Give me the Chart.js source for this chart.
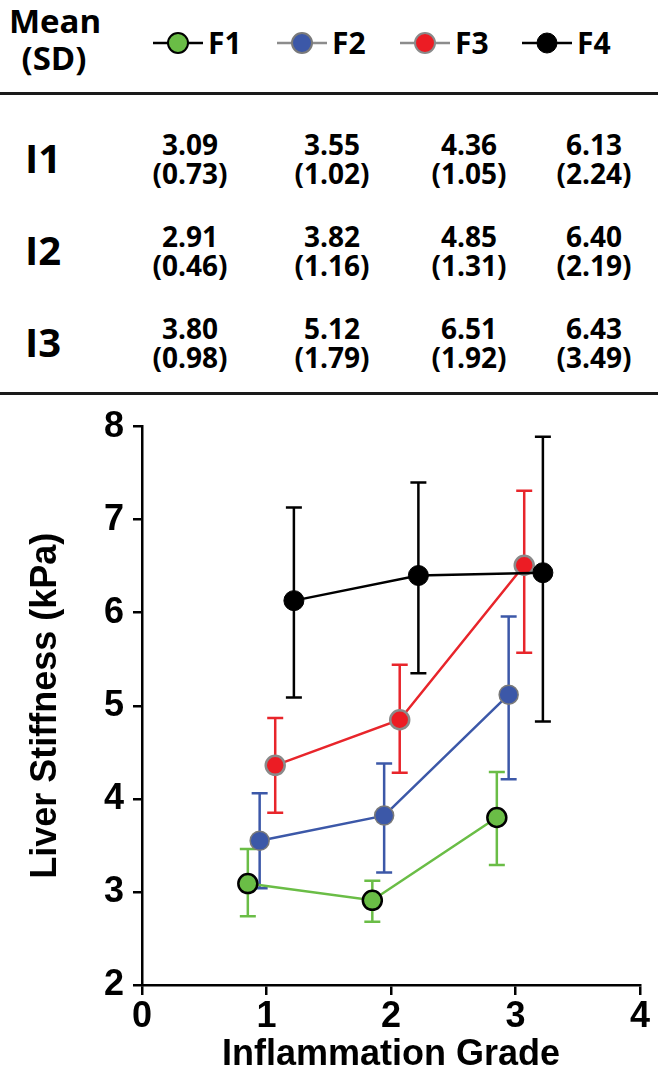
<!DOCTYPE html>
<html>
<head>
<meta charset="utf-8">
<script src="https://cdn.jsdelivr.net/npm/chart.js@4.4.1/dist/chart.umd.min.js"></script>
<style>
  html,body{margin:0;padding:0;background:#fff;}
  body{width:658px;height:1077px;position:relative;overflow:hidden;font-family:"Open Sans","Noto Sans",sans-serif;font-weight:700;color:#000;}
  .abs{position:absolute;white-space:nowrap;}
  .c{transform:translate(-50%,-50%);}
  .hline{position:absolute;left:0;width:658px;height:2.5px;background:#1a1a1a;}
  #chartWrap{position:absolute;left:0;top:396px;width:658px;height:681px;}
</style>
</head>
<body>
<div id="page"></div>
<div class="hline" style="top:92px"></div>
<div class="hline" style="top:392px"></div>
<div id="chartWrap"><canvas id="chart" width="658" height="681"></canvas></div>
<script>
// ---------------- DATA ----------------
const categories = ['F1', 'F2', 'F3', 'F4'];          // fibrosis stages (series)
const rowLabels  = ['I1', 'I2', 'I3'];                // inflammation grades (table rows)
const gradeValues = [1, 2, 3];                        // x values of grades
const seriesOffset = [-0.15, -0.055, 0.07, 0.22];     // horizontal dodge of each series

const meanI1 = [3.09, 3.55, 4.36, 6.13];
const sdI1   = [0.73, 1.02, 1.05, 2.24];
const meanI2 = [2.91, 3.82, 4.85, 6.40];
const sdI2   = [0.46, 1.16, 1.31, 2.19];
const meanI3 = [3.80, 5.12, 6.51, 6.43];
const sdI3   = [0.98, 1.79, 1.92, 3.49];

// error bar ends (per series, grades 1..3)
const errLowF1  = [2.74, 2.68, 3.29];
const errHighF1 = [3.46, 3.12, 4.29];
const errLowF2  = [3.04, 3.21, 4.21];
const errHighF2 = [4.06, 4.38, 5.96];
const errLowF3  = [3.85, 4.28, 5.57];
const errHighF3 = [4.87, 5.44, 7.31];
const errLowF4  = [5.09, 5.35, 4.83];
const errHighF4 = [7.13, 7.40, 7.89];

const yTicks = [2, 3, 4, 5, 6, 7, 8];
const xTicks = [0, 1, 2, 3, 4];

// ---------------- STYLE ----------------
const fillColors   = ['#6abd46', '#3c58a8', '#ec1c24', '#000000'];
const lineColors   = ['#6abd46', '#3c58a8', '#e8252b', '#000000'];
const markerBorder = ['#000000', '#7a7a7a', '#8a8a8a', '#000000'];
const markerBW     = [2.5, 1.5, 2.5, 1];
const legendLine   = ['#000000', '#8c8c8c', '#8c8c8c', '#000000'];

const means = [meanI1, meanI2, meanI3];
const sds = [sdI1, sdI2, sdI3];
const errLow = [errLowF1, errLowF2, errLowF3, errLowF4];
const errHigh = [errHighF1, errHighF2, errHighF3, errHighF4];

// ---------------- HEADER / TABLE (HTML) ----------------
const page = document.getElementById('page');
function put(text, x, y, size, extra) {
  const d = document.createElement('div');
  d.className = 'abs c';
  d.style.left = x + 'px';
  d.style.top = y + 'px';
  d.style.fontSize = size + 'px';
  d.style.lineHeight = '1';
  if (extra) Object.assign(d.style, extra);
  d.textContent = text;
  page.appendChild(d);
  return d;
}
put('Mean', 55, 20, 33);
put('(SD)', 54, 57, 33);

// legend
const legendX = [178, 302, 425, 547];
const legendY = 43;
categories.forEach((c, i) => {
  const svgNS = 'http://www.w3.org/2000/svg';
  const svg = document.createElementNS(svgNS, 'svg');
  svg.setAttribute('width', '52'); svg.setAttribute('height', '26');
  svg.style.position = 'absolute';
  svg.style.left = (legendX[i] - 26) + 'px';
  svg.style.top = (legendY - 13) + 'px';
  const ln = document.createElementNS(svgNS, 'line');
  ln.setAttribute('x1', '1'); ln.setAttribute('x2', '51');
  ln.setAttribute('y1', '13'); ln.setAttribute('y2', '13');
  ln.setAttribute('stroke', legendLine[i]); ln.setAttribute('stroke-width', '2.5');
  svg.appendChild(ln);
  const ci = document.createElementNS(svgNS, 'circle');
  ci.setAttribute('cx', '26'); ci.setAttribute('cy', '13'); ci.setAttribute('r', '10');
  ci.setAttribute('fill', fillColors[i]);
  ci.setAttribute('stroke', markerBorder[i]);
  ci.setAttribute('stroke-width', i === 3 ? '1' : '2');
  svg.appendChild(ci);
  page.appendChild(svg);
  put(c, legendX[i] + 30, legendY, 30, {transform: 'translate(0,-50%)'});
});

// table
const colX = [190, 332, 469, 594];
const rowY = [158, 250, 342];
rowLabels.forEach((r, ri) => {
  put(r, 43, rowY[ri], 40);
  categories.forEach((c, ci) => {
    put(means[ri][ci].toFixed(2), colX[ci], rowY[ri] - 14.5, 28);
    put('(' + sds[ri][ci].toFixed(2) + ')', colX[ci], rowY[ri] + 15, 28);
  });
});

// ---------------- CHART ----------------
const datasets = categories.map((c, si) => ({
  label: c,
  data: gradeValues.map((g, gi) => ({ x: g + seriesOffset[si], y: means[gi][si] })),
  showLine: true,
  borderColor: lineColors[si],
  borderWidth: 2.5,
  backgroundColor: fillColors[si],
  pointBackgroundColor: fillColors[si],
  pointBorderColor: markerBorder[si],
  pointBorderWidth: markerBW[si],
  pointRadius: si === 3 ? 10 : 9.5,
  pointHoverRadius: 9.5,
  tension: 0,
  errLow: errLow[si],
  errHigh: errHigh[si],
  order: 4 - si
}));

const errorBars = {
  id: 'errorBars',
  beforeDatasetsDraw(chart) {
    const ctx = chart.ctx;
    const xs = chart.scales.x, ys = chart.scales.y;
    chart.data.datasets.forEach((ds, si) => {
      ctx.save();
      ctx.strokeStyle = ds.borderColor;
      ctx.lineWidth = 2.5;
      ds.data.forEach((p, j) => {
        const px = xs.getPixelForValue(p.x);
        const yl = ys.getPixelForValue(ds.errLow[j]);
        const yh = ys.getPixelForValue(ds.errHigh[j]);
        ctx.beginPath();
        ctx.moveTo(px, yl); ctx.lineTo(px, yh);
        ctx.moveTo(px - 8, yl); ctx.lineTo(px + 8, yl);
        ctx.moveTo(px - 8, yh); ctx.lineTo(px + 8, yh);
        ctx.stroke();
      });
      ctx.restore();
    });
  }
};

const tickFont = { family: '"Liberation Sans", Arial, sans-serif', weight: 'bold', size: 36 };
const titleFont = { family: '"Liberation Sans", Arial, sans-serif', weight: 'bold', size: 36 };

new Chart(document.getElementById('chart'), {
  type: 'scatter',
  data: { datasets },
  plugins: [errorBars],
  options: {
    responsive: false,
    animation: false,
    events: [],
    layout: { padding: { left: 0, right: 18, top: 30, bottom: 0 } },
    plugins: { legend: { display: false }, tooltip: { enabled: false } },
    scales: {
      x: {
        type: 'linear', min: 0, max: 4,
        afterBuildTicks: s => { s.ticks = xTicks.map(v => ({ value: v })); },
        afterFit: s => { s.height = 92; },
        ticks: { color: '#000', font: tickFont, padding: 0, maxRotation: 0 },
        grid: { display: true, drawOnChartArea: false, drawTicks: true, tickLength: 10, color: '#000', lineWidth: 2.5 },
        border: { display: true, color: '#000', width: 2.5 },
        title: { display: true, text: 'Inflammation Grade', color: '#000', font: titleFont, padding: { top: 0, bottom: 0 } }
      },
      y: {
        type: 'linear', min: 2, max: 8,
        afterBuildTicks: s => { s.ticks = yTicks.map(v => ({ value: v })); },
        afterFit: s => { s.width = 142; },
        ticks: { color: '#000', font: tickFont, padding: 9 },
        grid: { display: true, drawOnChartArea: false, drawTicks: true, tickLength: 9, color: '#000', lineWidth: 2.5 },
        border: { display: true, color: '#000', width: 2.5 },
        title: { display: true, text: 'Liver Stiffness (kPa)', color: '#000', font: titleFont, padding: { top: 24, bottom: 0 } }
      }
    }
  }
});
</script>
</body>
</html>
